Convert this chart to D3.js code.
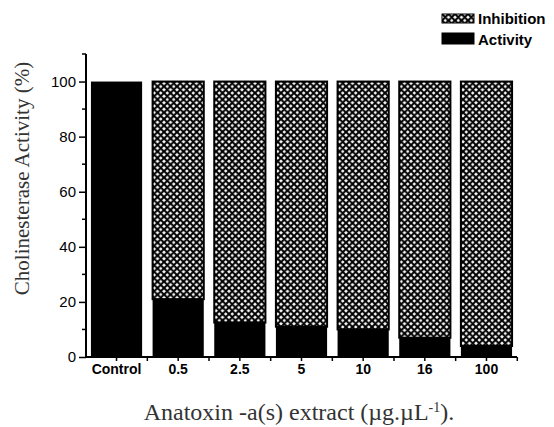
<!DOCTYPE html>
<html>
<head>
<meta charset="utf-8">
<script src="https://cdn.jsdelivr.net/npm/d3@7"></script>
<style>
  body { margin: 0; background: #fff; }
</style>
</head>
<body>
<div class="chart"></div>
<script>
// chart data
var categories = ["Control", "0.5", "2.5", "5", "10", "16", "100"];
var activity = [100, 21, 12.5, 11, 10, 7, 4];
var inhibition = activity.map(function(a) { return 100 - a; });
var yTicks = [0, 20, 40, 60, 80, 100];
var yMinorTicks = [10, 30, 50, 70, 90, 110];
var legendItems = ["Inhibition", "Activity"];

var svgWidth = 554;
var svgHeight = 427;
var margin = { top: 54, right: 37, bottom: 70, left: 86 };
var width = svgWidth - margin.left - margin.right;
var height = svgHeight - margin.top - margin.bottom;

var svg = d3.select(".chart")
  .append("svg")
  .attr("width", svgWidth)
  .attr("height", svgHeight);

// cross hatch pattern for inhibition
var hp = 6.5;
var defs = svg.append("defs");
var pat = defs.append("pattern")
  .attr("id", "hatch")
  .attr("patternUnits", "userSpaceOnUse")
  .attr("width", hp)
  .attr("height", hp);
pat.append("rect").attr("width", hp).attr("height", hp).attr("fill", "#fff");
pat.append("path")
  .attr("d", "M-1,1 l2,-2 M0," + hp + " l" + hp + ",-" + hp + " M" + (hp - 1) + "," + (hp + 1) + " l2,-2" +
             " M-1," + (hp - 1) + " l2,2 M0,0 l" + hp + "," + hp + " M" + (hp - 1) + ",-1 l2,2")
  .attr("stroke", "#000")
  .attr("stroke-width", 2.1);

var chart = svg.append("g")
  .attr("transform", "translate(" + margin.left + "," + margin.top + ")");

var x = d3.scaleBand().domain(categories).range([0, width]).paddingInner(0.17).paddingOuter(0.08);
var y = d3.scaleLinear().domain([0, 110]).range([height, 0]);

var rows = categories.map(function(c, i) {
  return { cat: c, act: activity[i], inh: inhibition[i] };
});

// activity bars (black)
chart.selectAll(".act")
  .data(rows)
  .enter()
  .append("rect")
  .attr("class", "act")
  .attr("x", function(d) { return x(d.cat); })
  .attr("y", function(d) { return y(d.act); })
  .attr("width", x.bandwidth())
  .attr("height", function(d) { return height - y(d.act); })
  .attr("fill", "#000");

// inhibition bars stacked on top
chart.selectAll(".inh")
  .data(rows.filter(function(d) { return d.inh > 0; }))
  .enter()
  .append("rect")
  .attr("class", "inh")
  .attr("x", function(d) { return x(d.cat); })
  .attr("y", function(d) { return y(d.act + d.inh); })
  .attr("width", x.bandwidth())
  .attr("height", function(d) { return y(d.act) - y(d.act + d.inh); })
  .attr("fill", "url(#hatch)")
  .attr("stroke", "#000")
  .attr("stroke-width", 2);

// y axis
var leftAxis = d3.axisLeft(y).tickValues(yTicks).tickSize(7).tickPadding(3);
var yAxis = chart.append("g").call(leftAxis);
yAxis.select(".domain").attr("d", "M0," + y(110) + "H0V" + height).attr("stroke-width", 2);
yAxis.selectAll(".tick line").attr("stroke-width", 1.5);
yAxis.selectAll("text")
  .style("font-family", "Arial, 'Liberation Sans', sans-serif")
  .style("font-size", "15px")
  .attr("fill", "#000");
chart.append("g").selectAll("line")
  .data(yMinorTicks)
  .enter()
  .append("line")
  .attr("x1", -4).attr("x2", 0)
  .attr("y1", function(d) { return y(d); })
  .attr("y2", function(d) { return y(d); })
  .attr("stroke", "#000")
  .attr("stroke-width", 1.5);

// x axis
var bottomAxis = d3.axisBottom(x).tickSize(4).tickPadding(3);
var xAxis = chart.append("g")
  .attr("transform", "translate(0," + height + ")")
  .call(bottomAxis);
xAxis.select(".domain").attr("d", "M0,0H" + width).attr("stroke-width", 2);
xAxis.selectAll(".tick line").attr("stroke-width", 1.5);
xAxis.selectAll("text")
  .style("font-family", "Arial, 'Liberation Sans', sans-serif")
  .style("font-size", "14px")
  .style("font-weight", "bold")
  .attr("fill", "#000");
// minor ticks between categories
var step = x.step();
chart.append("g").selectAll("line")
  .data(categories)
  .enter()
  .append("line")
  .attr("x1", function(d) { return x(d) + x.bandwidth() + (step - x.bandwidth()) / 2; })
  .attr("x2", function(d) { return x(d) + x.bandwidth() + (step - x.bandwidth()) / 2; })
  .attr("y1", height)
  .attr("y2", height + 4)
  .attr("stroke", "#000")
  .attr("stroke-width", 1.5);

// axis titles
chart.append("text")
  .attr("transform", "rotate(-90)")
  .attr("x", -(y(110) + height) / 2 + 27)
  .attr("y", -margin.left + 29)
  .style("text-anchor", "middle")
  .style("font-family", "'Liberation Serif', 'Times New Roman', serif")
  .style("font-size", "21px")
  .attr("fill", "#333")
  .text("Cholinesterase Activity (%)");

var xt = chart.append("text")
  .attr("x", 299 - margin.left)
  .attr("y", height + 63)
  .style("text-anchor", "middle")
  .style("font-family", "'Liberation Serif', 'Times New Roman', serif")
  .style("font-size", "24px")
  .attr("fill", "#333");
xt.append("tspan").text("Anatoxin -a(s) extract (\u00b5g.\u00b5L");
xt.append("tspan").attr("dy", -8).style("font-size", "14px").text("-1");
xt.append("tspan").attr("dy", 8).text(").");

// legend
var legend = svg.append("g").attr("transform", "translate(442,0)");
var lg = legend.selectAll("g")
  .data(legendItems)
  .enter()
  .append("g")
  .attr("transform", function(d, i) { return "translate(0," + (i === 0 ? 14 : 33) + ")"; });
lg.append("rect")
  .attr("width", 32)
  .attr("height", function(d, i) { return i === 0 ? 9 : 11; })
  .attr("fill", function(d, i) { return i === 0 ? "url(#hatch)" : "#000"; })
  .attr("stroke", "#000")
  .attr("stroke-width", 1);
lg.append("text")
  .attr("x", 36)
  .attr("y", function(d, i) { return i === 0 ? 10 : 12; })
  .style("font-family", "Arial, 'Liberation Sans', sans-serif")
  .style("font-size", "15px")
  .style("font-weight", "bold")
  .attr("fill", "#000")
  .text(function(d) { return d; });
</script>
</body>
</html>
